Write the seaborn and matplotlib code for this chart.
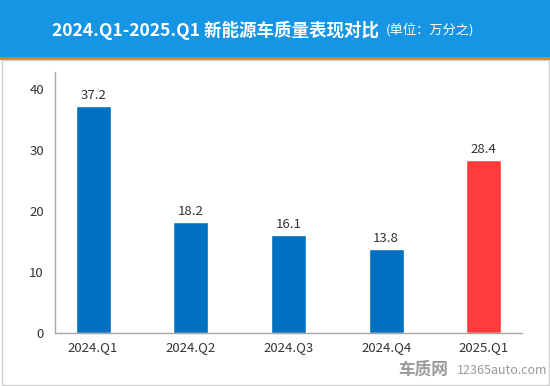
import matplotlib
matplotlib.use('Agg')
import matplotlib.pyplot as plt
import seaborn as sns
from matplotlib.patches import Rectangle

# Dữ liệu
quarters = ['2024.Q1', '2024.Q2', '2024.Q3', '2024.Q4', '2025.Q1']
values = [37.2, 18.2, 16.1, 13.8, 28.4]
bar_colors = ['#0070C0', '#0070C0', '#0070C0', '#0070C0', '#FF3B3B']
yticks = [0, 10, 20, 30, 40]

sns.set_style('white')
plt.rcParams['font.family'] = ['Noto Sans CJK SC', 'DejaVu Sans']

W, H = 550, 386
fig = plt.figure(figsize=(W / 100, H / 100), dpi=100)

# Header xanh + viền cam
fig.patches.append(Rectangle((0, 1 - 57 / H), 1, 57 / H, transform=fig.transFigure,
                             facecolor='#1695E5', edgecolor='none', zorder=0))
fig.patches.append(Rectangle((0, 1 - 60 / H), 1, 3 / H, transform=fig.transFigure,
                             facecolor='#F07D00', edgecolor='none', zorder=0))
# Khung xám
fig.patches.append(Rectangle((1.5 / W, 1.5 / H), (W - 3) / W, (H - 61.5) / H,
                             transform=fig.transFigure, facecolor='none',
                             edgecolor='#D0D0D0', linewidth=1, zorder=0))

t1 = fig.text(52 / W, 1 - 30 / H, '2024.Q1-2025.Q1 新能源车质量表现对比', color='white',
              fontsize=12.6, fontweight='bold', ha='left', va='center')
renderer = fig.canvas.get_renderer()
bb = t1.get_window_extent(renderer)
fig.text((bb.x1 + 7) / W, 1 - 30 / H, '(单位：万分之)', color='white',
         fontsize=9.5, ha='left', va='center')

ax = fig.add_axes([55 / W, (H - 333) / H, (522 - 55) / W, (333 - 72) / H])
sns.barplot(x=quarters, y=values, hue=quarters, palette=bar_colors, width=0.36,
            legend=False, ax=ax, saturation=1)
ax.set_xlim(-0.39, 4.39)
ax.set_ylim(0, 42.8)
ax.set_yticks(yticks)
ax.tick_params(axis='both', length=0, labelsize=9.5, labelcolor='#333333')
ax.tick_params(axis='y', pad=8)
ax.tick_params(axis='x', pad=6)
for s in ['top', 'right']:
    ax.spines[s].set_visible(False)
for s in ['left', 'bottom']:
    ax.spines[s].set_color('#A6A6A6')
    ax.spines[s].set_linewidth(1)
ax.set_xlabel('')
ax.set_ylabel('')

for c in ax.containers:
    ax.bar_label(c, fmt='%.1f', padding=3, fontsize=9.5, color='#333333')

# Watermark
fig.text(398 / W, 1 - 370 / H, '车质网', color='#9A9A9A', fontsize=12,
         fontweight='bold', ha='left', va='center')
fig.text(457 / W, 1 - 371 / H, '12365auto.com', color='#9A9A9A', fontsize=9,
         ha='left', va='center')

fig.savefig('out.png', dpi=100)
